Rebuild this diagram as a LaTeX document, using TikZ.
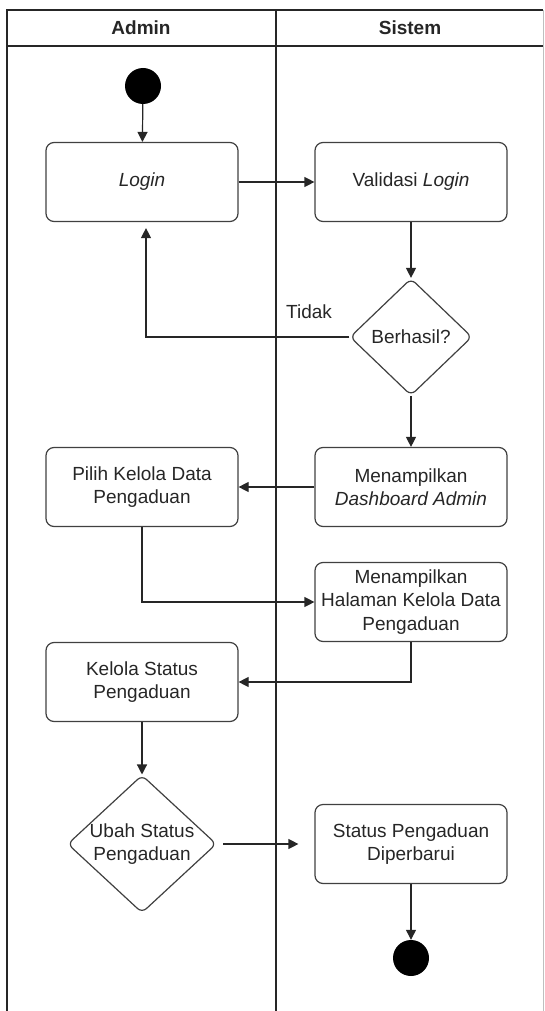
\documentclass[tikz,border=0pt]{standalone}
\usepackage{fontspec}
\setmainfont{Liberation Sans}
\usepackage{tikz}
\usetikzlibrary{shapes.geometric,arrows.meta,positioning,calc}

\tikzset{
	lane/.style={line width=1.6pt,black!85},
	act/.style={draw=black!75,line width=1.2pt,rounded corners=8pt,minimum width=192pt,minimum height=79pt,inner sep=2pt,align=center,text=black!85,font=\fontsize{19}{23.3}\selectfont},
	choice/.style={draw=black!75,line width=1.2pt,diamond,rounded corners=6pt,inner sep=0pt,aspect=1.08,align=center,text=black!85,font=\fontsize{19}{23.3}\selectfont},
	dot/.style={circle,fill=black,minimum size=36pt,inner sep=0pt},
	flow/.style={-{Triangle[length=10pt,width=10pt]},line width=1.2pt,black!85},
	head/.style={text=black!85,font=\bfseries\fontsize{19}{23}\selectfont},
}

\begin{document}
\begin{tikzpicture}[x=1pt,y=-1pt]
	\useasboundingbox (0,0) rectangle (544,1011);
	% swimlanes
	\draw[lane] (7,1011) -- (7,10) -- (543,10);
	\draw[lane] (7,46) -- (543,46);
	\draw[black!25,line width=0.8pt] (543,10) -- (543,1011);
	\draw[lane,line width=2pt] (276,10) -- (276,1011);
	\node[head] (admin) at (141,28) {Admin};
	\node[head] (sistem) at (410,28) {Sistem};
	% activities
	\node[dot] (start) at (143,86) {};
	\node[act] (login) at (142,182) {\textit{Login}};
	\node[act] (validasi) at (411,182) {Validasi \textit{Login}};
	\node[choice,minimum width=122pt,minimum height=117pt] (berhasil) at (411,337) {Berhasil?};
	\node[text=black!85,font=\fontsize{19}{23}\selectfont] (tidak) at (309,312) {Tidak};
	\node[act] (pilih) at (142,487) {Pilih Kelola Data\\Pengaduan};
	\node[act] (dashboard) at (411,487) {Menampilkan\\\textit{Dashboard Admin}};
	\node[act] (halaman) at (411,602) {Menampilkan\\Halaman Kelola Data\\Pengaduan};
	\node[act] (kelola) at (142,682) {Kelola Status\\Pengaduan};
	\node[choice,minimum width=148pt,minimum height=137pt] (ubah) at (142,844) {Ubah Status\\Pengaduan};
	\node[act] (status) at (411,844) {Status Pengaduan\\Diperbarui};
	\node[dot] (end) at (411,958) {};
	% flows
	\draw[flow] (start) -- (login);
	\draw[flow] (login) -- (validasi);
	\draw[flow] (validasi) -- (berhasil);
	\draw[flow,shorten >=6pt] (berhasil.west) -| ([xshift=4pt]login.south);
	\draw[flow] (berhasil) -- (dashboard);
	\draw[flow] (dashboard) -- (pilih);
	\draw[flow] (pilih.south) |- (halaman.west);
	\draw[flow] (halaman.south) |- (kelola.east);
	\draw[flow] (kelola) -- (ubah);
	\draw[flow,shorten <=6pt,shorten >=16pt] (ubah.east) -- (ubah.east -| status.west);
	\draw[flow] (status) -- (end);
\end{tikzpicture}
\end{document}
